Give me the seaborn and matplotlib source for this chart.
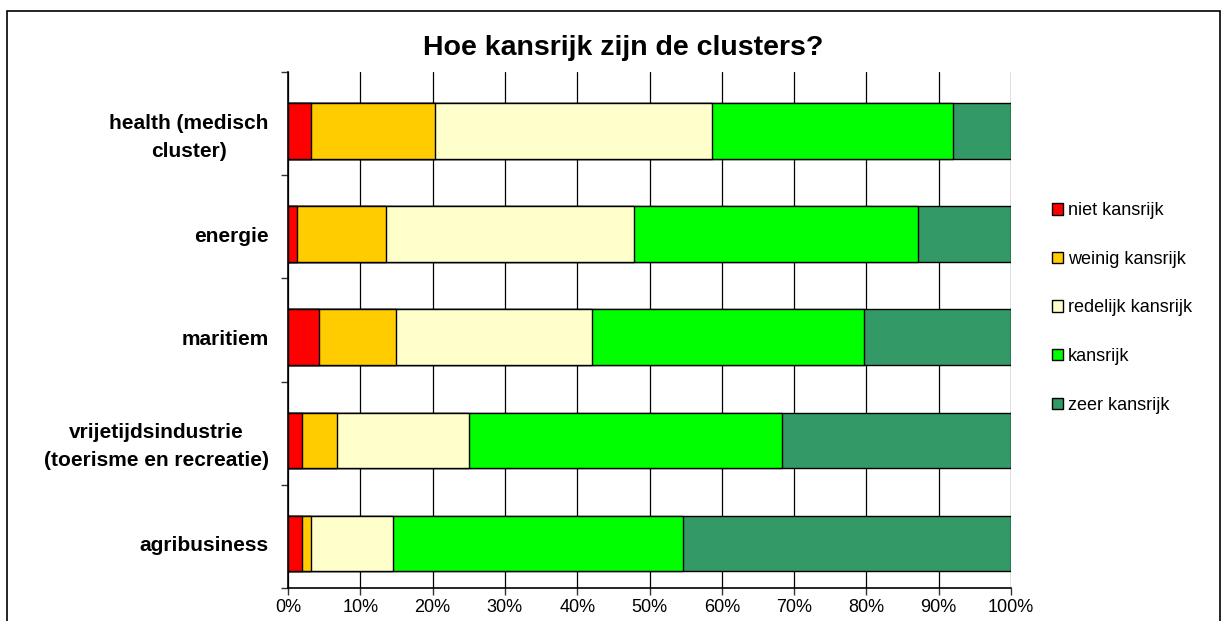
import numpy as np
import pandas as pd
import matplotlib
matplotlib.use("Agg")
import matplotlib.pyplot as plt
import matplotlib.patches as mpatches
import seaborn as sns

clusters = ["health (medisch\ncluster)", "energie", "maritiem",
            "vrijetijdsindustrie\n(toerisme en recreatie)", "agribusiness"]
series_names = ["niet kansrijk", "weinig kansrijk", "redelijk kansrijk",
                "kansrijk", "zeer kansrijk"]
niet = [3.2, 1.3, 4.3, 2.0, 2.0]
weinig = [17.1, 12.3, 10.6, 4.8, 1.2]
redelijk = [38.3, 34.2, 27.2, 18.2, 11.3]
kansrijk = [33.4, 39.3, 37.6, 43.3, 40.2]
zeer = [8.0, 12.9, 20.3, 31.7, 45.3]
colors = ["#FF0000", "#FFCC00", "#FFFFCC", "#00FF00", "#339966"]
xticks = [0, 10, 20, 30, 40, 50, 60, 70, 80, 90, 100]

df = pd.DataFrame({"cluster": clusters, "niet": niet, "weinig": weinig,
                   "redelijk": redelijk, "kansrijk": kansrijk, "zeer": zeer})
cols = ["niet", "weinig", "redelijk", "kansrijk", "zeer"]
cum = df[cols].cumsum(axis=1)

sns.set_style("white")
plt.rcParams["font.family"] = ["Liberation Sans", "DejaVu Sans"]
plt.rcParams["text.color"] = "black"
plt.rcParams["xtick.labelcolor"] = "black"
plt.rcParams["ytick.labelcolor"] = "black"

fig = plt.figure(figsize=(12.25, 6.21), dpi=100)
ax = fig.add_axes([288 / 1225, 1 - 588 / 621, 723 / 1225, 516 / 621])

# vertical gridlines behind the bars
for v in xticks:
    ax.axvline(v, color="black", lw=0.9, zorder=0)

# stacked bars: draw the widest cumulative layer first
for i in reversed(range(len(cols))):
    tmp = pd.DataFrame({"cluster": clusters, "val": cum[cols[i]]})
    sns.barplot(data=tmp, x="val", y="cluster", order=clusters, color=colors[i],
                width=0.54, edgecolor="black", linewidth=1.0, saturation=1,
                ax=ax, zorder=2)

# bars sit a little below the middle of each band in the original
shift = 0.07
ax.set_xlim(0, 100)
ax.set_ylim(4.5 - shift, -0.5 - shift)
ax.set_xticks(xticks)
ax.set_xticklabels([f"{v}%" for v in xticks], fontsize=13)
ax.set_yticks(range(len(clusters)))
ax.set_yticklabels(clusters, fontsize=15, fontweight="bold", ha="right",
                   multialignment="center", linespacing=1.6)
ax.set_yticks(np.arange(-0.5, 5, 1) - shift, minor=True)
ax.tick_params(axis="y", which="major", length=0, pad=14)
ax.tick_params(axis="y", which="minor", length=5, width=1, color="#333333", left=True)
ax.tick_params(axis="x", length=5, width=1, color="#333333", bottom=True, pad=3)
ax.set_xlabel("")
ax.set_ylabel("")

for s in ["top", "right"]:
    ax.spines[s].set_visible(False)
for s in ["left", "bottom"]:
    ax.spines[s].set_color("black")
    ax.spines[s].set_linewidth(1.2)

fig.text(623 / 1225, 1 - 48 / 621, "Hoe kansrijk zijn de clusters?",
         ha="center", va="center", fontsize=20.5, fontweight="bold")

handles = [mpatches.Patch(facecolor=c, edgecolor="black", linewidth=1.0, label=n)
           for c, n in zip(colors, series_names)]
fig.legend(handles=handles, loc="center left",
           bbox_to_anchor=(1036 / 1225, 1 - 308 / 621), frameon=False,
           fontsize=13, handlelength=0.6, handleheight=0.6,
           handletextpad=0.25, labelspacing=1.75)

# outer chart border
fig.add_artist(mpatches.Rectangle((7 / 1225, -0.02), 1213 / 1225, 1 - 11 / 621 + 0.02,
                                  transform=fig.transFigure, fill=False,
                                  edgecolor="black", linewidth=1.2))

fig.savefig("out.png", dpi=100)
